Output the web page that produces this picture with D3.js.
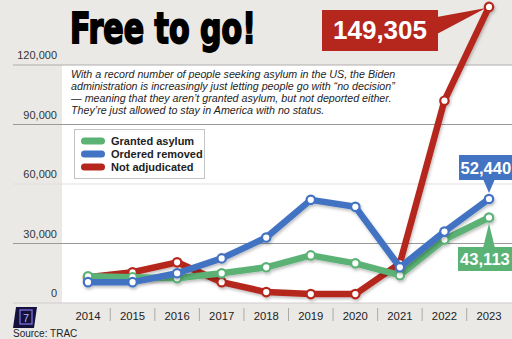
<!DOCTYPE html>
<html><head><meta charset="utf-8">
<script src="https://cdn.jsdelivr.net/npm/d3@7"></script>
<style>
html,body{margin:0;padding:0;background:#ebe9e6;}
svg{display:block;font-family:"Liberation Sans",Arial,sans-serif;}
</style></head>
<body><svg id="c" width="512" height="339"></svg>
<script>
const years = [2014,2015,2016,2017,2018,2019,2020,2021,2022,2023];
const granted = [13500,13000,12500,15000,18000,24000,20000,14000,32000,43113];
const removed = [10500,10500,15000,22500,33000,52000,48500,18000,36000,52440];
const notAdj = [13000,15500,20500,10500,5500,4500,4500,20000,102000,149305];
const yTicks = [0,30000,60000,90000,120000];
const seriesNames = ["Granted asylum","Ordered removed","Not adjudicated"];
const colors = {green:"#5bb275", blue:"#4373c3", red:"#b5261c"};
const subtitle = [
 "With a record number of people seeking asylum in the US, the Biden",
 "administration is increasingly just letting people go with \u201cno decision\u201d",
 "\u2014 meaning that they aren\u2019t granted asylum, but not deported either.",
 "They\u2019re just allowed to stay in America with no status."
];

const svg = d3.select("#c");
const x = d3.scaleLinear().domain([2014,2023]).range([88,489]);
const y = d3.scaleLinear().domain([0,120000]).range([303,65]);

svg.append("rect").attr("width",512).attr("height",339).attr("fill","#ebe9e6");
svg.append("rect").attr("x",62).attr("y",y(120000)).attr("width",450).attr("height",y(0)-y(120000)).attr("fill","#fff");

// gridlines
const gridCol = {0:"#cfcccb",30000:"#9a9a9a",60000:"#e2e0de",90000:"#9a9a9a",120000:"#b0aeac"};
svg.selectAll(".grid").data(yTicks).join("line")
  .attr("x1",13).attr("x2",512).attr("y1",d=>y(d)).attr("y2",d=>y(d))
  .attr("stroke",d=>gridCol[d]).attr("stroke-width",1.2);
svg.selectAll(".ylab").data(yTicks).join("text")
  .attr("x",57).attr("y",d=>y(d)-6).attr("text-anchor","end")
  .attr("font-size",11).attr("fill","#333").text(d=>d3.format(",")(d));

// title
svg.append("text").attr("x",70).attr("y",43)
  .attr("font-family","'Liberation Sans Narrow','DejaVu Sans Condensed',Arial,sans-serif")
  .attr("font-weight","bold").attr("font-size",42).attr("fill","#000")
  .attr("stroke","#000").attr("stroke-width",1.8)
  .attr("textLength",186).attr("lengthAdjust","spacingAndGlyphs")
  .text("Free to go!");

// subtitle
svg.selectAll(".sub").data(subtitle).join("text")
  .attr("x",71).attr("y",(d,i)=>78+i*12)
  .attr("font-size",10.7).attr("font-style","italic").attr("fill","#1e1e1e").text(d=>d);

// x axis
svg.selectAll(".xlab").data(years).join("text")
  .attr("x",d=>x(d)).attr("y",320).attr("text-anchor","middle")
  .attr("font-size",11.3).attr("fill","#222").text(d=>d);
svg.selectAll(".sep").data(years.slice(1)).join("line")
  .attr("x1",d=>x(d-0.5)).attr("x2",d=>x(d-0.5)).attr("y1",308).attr("y2",321)
  .attr("stroke","#aaa").attr("stroke-width",1);

// shadow filter
const defs = svg.append("defs");
const f = defs.append("filter").attr("id","sh").attr("x","-10%").attr("y","-10%").attr("width","130%").attr("height","130%");
f.append("feDropShadow").attr("dx",1).attr("dy",2).attr("stdDeviation",1.5).attr("flood-color","#000").attr("flood-opacity",0.25);

const line = d3.line().x((d,i)=>x(years[i])).y(d=>y(d));
const series = [
  {vals:notAdj,col:colors.red},
  {vals:granted,col:colors.green},
  {vals:removed,col:colors.blue}
];
series.forEach(s=>{
  const g = svg.append("g").attr("filter","url(#sh)");
  g.append("path").datum(s.vals).attr("d",line).attr("fill","none")
    .attr("stroke",s.col).attr("stroke-width",6.5).attr("stroke-linejoin","round").attr("stroke-linecap","round");
  g.selectAll("circle").data(s.vals).join("circle")
    .attr("cx",(d,i)=>x(years[i])).attr("cy",d=>y(d)).attr("r",4.2)
    .attr("fill","#fff").attr("stroke",s.col).attr("stroke-width",2.2);
});

// legend
const lg = svg.append("g");
lg.append("rect").attr("x",74.5).attr("y",129.5).attr("width",130).attr("height",49)
  .attr("fill","#fff").attr("stroke","#c4c4c4").attr("stroke-width",1);
const legCols = [colors.green,colors.blue,colors.red];
seriesNames.forEach((n,i)=>{
  const cy = 141+i*13;
  lg.append("rect").attr("x",81).attr("y",cy-3.5).attr("width",24).attr("height",7).attr("rx",3.5)
    .attr("fill",legCols[i]);
  lg.append("text").attr("x",111).attr("y",cy+4).attr("font-size",11).attr("font-weight","bold")
    .attr("fill","#222").text(n);
});

// callouts
const lastI = years.length-1;
const px = x(years[lastI]);
// red
const ry = y(notAdj[lastI]);
svg.append("path").attr("d",`M437,17 L${px-3},${ry+1} L437,34 Z`).attr("fill",colors.red);
svg.append("rect").attr("x",322).attr("y",10).attr("width",116).attr("height",41).attr("fill",colors.red);
svg.append("text").attr("x",380).attr("y",39).attr("text-anchor","middle").attr("font-size",26)
  .attr("font-weight","bold").attr("fill","#fff").text(d3.format(",")(notAdj[lastI]));
// blue
const by = y(removed[lastI]);
svg.append("path").attr("d",`M483,179 L${px},${by-6} L495,179 Z`).attr("fill",colors.blue);
svg.append("rect").attr("x",459).attr("y",155).attr("width",60).attr("height",25).attr("fill",colors.blue);
svg.append("text").attr("x",460.5).attr("y",174).attr("font-size",16.6)
  .attr("font-weight","bold").attr("fill","#fff").text(d3.format(",")(removed[lastI]));
// green
const gy = y(granted[lastI]);
svg.append("path").attr("d",`M483,248 L${px},${gy+6} L495,248 Z`).attr("fill",colors.green);
svg.append("rect").attr("x",458).attr("y",247).attr("width",60).attr("height",24).attr("fill",colors.green);
svg.append("text").attr("x",460).attr("y",265).attr("font-size",16.6)
  .attr("font-weight","bold").attr("fill","#fff").text(d3.format(",")(granted[lastI]));

// logo
const lo = svg.append("g");
lo.append("path").attr("d","M16,307 L37,307 L34,328 L13,328 Z").attr("fill","#14123a");
lo.append("rect").attr("x",20).attr("y",310).attr("width",12).attr("height",14).attr("fill","none")
  .attr("stroke","#7b6fe0").attr("stroke-width",1.3);
lo.append("text").attr("x",26).attr("y",322).attr("text-anchor","middle").attr("font-size",11)
  .attr("fill","#b8b0ff").text("7");

svg.append("text").attr("x",13).attr("y",337).attr("font-size",10).attr("fill","#222").text("Source: TRAC");
</script></body></html>
